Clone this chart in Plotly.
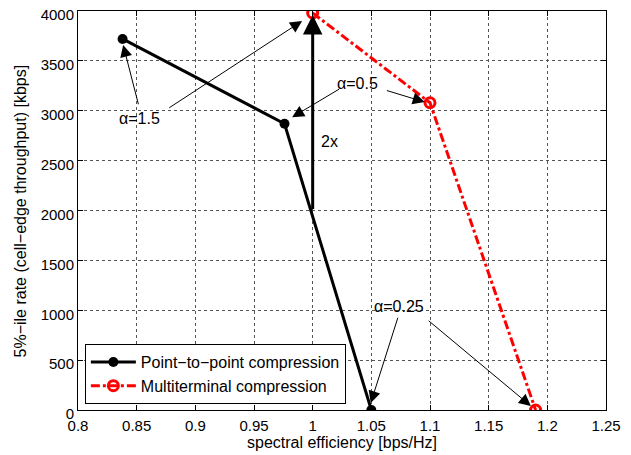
import plotly.graph_objects as go

# Data
p2p_x = [0.838, 0.976, 1.05]
p2p_y = [3720, 2870, 0]
mt_x = [1.0, 1.1, 1.19]
mt_y = [3980, 3080, 0]

x_ticks = [0.8, 0.85, 0.9, 0.95, 1.0, 1.05, 1.1, 1.15, 1.2, 1.25]
x_tick_text = ["0.8", "0.85", "0.9", "0.95", "1", "1.05", "1.1", "1.15", "1.2", "1.25"]
y_ticks = [0, 500, 1000, 1500, 2000, 2500, 3000, 3500, 4000]

# annotation arrows: (tail_x, tail_y, head_x, head_y)
thin_arrows = [
    (0.8518, 3050, 0.8385, 3660),
    (0.8765, 3020, 0.991, 3900),
    (1.0237, 3225, 0.9825, 2935),
    (1.062, 3207, 1.0955, 3087),
    (1.073, 940, 1.0495, 70),
    (1.0976, 907, 1.186, 40),
]
labels = [
    ("α=1.5", 0.852, 2927),
    ("α=0.5", 1.0383, 3274),
    ("α=0.25", 1.0732, 1033),
    ("2x", 1.014, 2690),
]
double_arrow = (1.0, 2000, 1.0, 3960)

FONT = "Liberation Sans, Arial, sans-serif"
FS = 15

fig = go.Figure()
fig.add_trace(go.Scatter(
    x=p2p_x, y=p2p_y, mode="lines+markers", name="Point−to−point compression",
    line=dict(color="black", width=3),
    marker=dict(symbol="circle", size=10, color="black"),
))
fig.add_trace(go.Scatter(
    x=mt_x, y=mt_y, mode="lines+markers", name="Multiterminal compression",
    line=dict(color="red", width=3, dash="dashdot"),
    marker=dict(symbol="circle-open", size=10, color="red", line=dict(width=3, color="red")),
))

anns = []
for tx, ty, hx, hy in thin_arrows:
    anns.append(dict(x=hx, y=hy, ax=tx, ay=ty, xref="x", yref="y", axref="x", ayref="y",
                     text="", showarrow=True, arrowhead=2, arrowsize=2.4, arrowwidth=1,
                     arrowcolor="black"))
tx, ty, hx, hy = double_arrow
anns.append(dict(x=hx, y=hy, ax=tx, ay=ty, xref="x", yref="y", axref="x", ayref="y",
                 text="", showarrow=True, arrowhead=2, arrowsize=1.3, arrowwidth=3,
                 arrowcolor="black"))
for t, lx, ly in labels:
    anns.append(dict(x=lx, y=ly, xref="x", yref="y", text=t, showarrow=False,
                     font=dict(size=FS + 1, color="black", family=FONT), xanchor="center", yanchor="middle"))

# y-axis title as a rotated annotation (page x ~ 20)
anns.append(dict(x=-0.108, y=0.5, xref="paper", yref="paper", xanchor="center", yanchor="middle",
                 text="5%−ile rate (cell−edge throughput) [kbps]", textangle=-90, showarrow=False,
                 font=dict(size=FS + 1, color="black", family=FONT)))

axis_common = dict(
    showline=True, linecolor="black", linewidth=1, mirror="allticks",
    ticks="inside", ticklen=5, tickcolor="black",
    showgrid=True, gridcolor="#555", griddash="dot", gridwidth=1,
    zeroline=False, tickfont=dict(size=FS, color="black", family=FONT),
    automargin=False, ticklabeloverflow="allow",
)

# The page body has an 8px default margin, so the figure is offset by (8, 8)
fig.update_layout(
    width=623, height=447,
    margin=dict(l=70, r=25, t=3, b=45),
    paper_bgcolor="white", plot_bgcolor="white",
    font=dict(family=FONT, color="black"),
    xaxis=dict(range=[0.8, 1.25], tickvals=x_ticks, ticktext=x_tick_text,
               title=dict(text="spectral efficiency [bps/Hz]", font=dict(size=FS + 1), standoff=0),
               ticklabelstandoff=2,
               **axis_common),
    yaxis=dict(range=[0, 4000], tickvals=y_ticks,
               ticklabelshift=4,
               **axis_common),
    legend=dict(x=0.013, y=0.015, xanchor="left", yanchor="bottom",
                bgcolor="white", bordercolor="black", borderwidth=1,
                font=dict(size=FS + 1, color="black", family=FONT),
                tracegroupgap=0, itemwidth=45),
    annotations=anns,
    showlegend=True,
)

fig.write_html("out.html")
